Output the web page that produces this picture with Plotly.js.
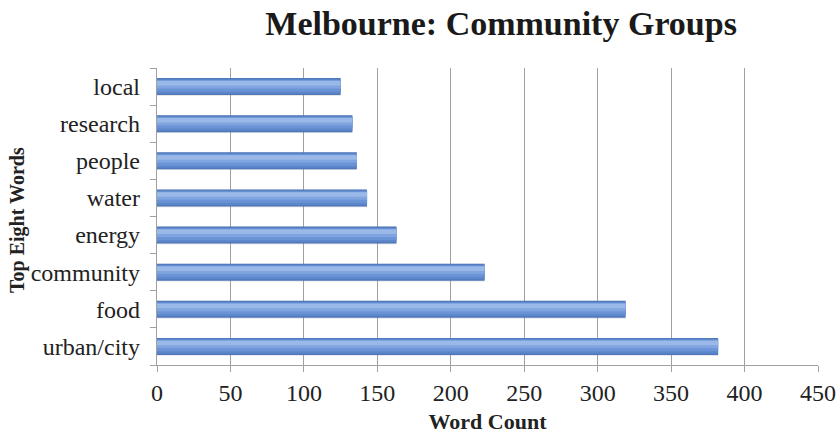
<!DOCTYPE html>
<html>
<head>
<meta charset="utf-8">
<script src="https://cdn.plot.ly/plotly-3.0.1.min.js"></script>
<style>html,body{margin:0;padding:0;background:#fff;}#chart{width:838px;height:434px;}</style>
</head>
<body>
<div id="chart"></div>
<script>
// Data (bottom to top)
const words = ["urban/city", "food", "community", "energy", "water", "people", "research", "local"];
const counts = [382, 319, 223, 163, 143, 136, 133, 125];
const xTicks = [0, 50, 100, 150, 200, 250, 300, 350, 400, 450];

// gradient layers: [offset, width, color]
const layers = [
  [-0.25, 0.48, "rgba(120,120,130,0.22)"],
  [-0.23, 0.46, "#5079bc"],
  [-0.19, 0.39, "#5c87cb"],
  [-0.13, 0.31, "#6a94d6"],
  [-0.05, 0.21, "#7fa4df"],
  [0.03, 0.12, "#9ab9e9"]
];
const traces = layers.map(l => ({
  type: "bar",
  orientation: "h",
  x: counts,
  y: words,
  offset: l[0],
  width: l[1],
  marker: {color: l[2], line: {width: 0}},
  hoverinfo: "skip",
  showlegend: false
}));

const font = "Liberation Serif, serif";
const layout = {
  width: 838, height: 434,
  margin: {l: 157, r: 20, t: 68, b: 69},
  paper_bgcolor: "#fff", plot_bgcolor: "#fff",
  barmode: "overlay",
  title: {
    text: "<b>Melbourne: Community Groups</b>",
    font: {family: font, size: 34, color: "#1a1a1a"},
    xref: "container", x: 0.598, xanchor: "center",
    yref: "container", y: 0.975, yanchor: "top"
  },
  xaxis: {
    range: [0, 450],
    tickvals: xTicks,
    ticktext: xTicks.map(String),
    showgrid: true, gridcolor: "#a0a0a0", gridwidth: 1.2,
    showline: true, linecolor: "#a0a0a0", linewidth: 1.2,
    ticks: "outside", ticklen: 6, tickcolor: "#a0a0a0",
    zeroline: false,
    tickfont: {family: font, size: 24, color: "#222"},
    title: {text: "<b>Word Count</b>", font: {family: font, size: 22, color: "#222"}, standoff: 10}
  },
  yaxis: {
    type: "category",
    categoryorder: "array", categoryarray: words,
    showgrid: false,
    showline: true, linecolor: "#a0a0a0", linewidth: 1.2,
    ticks: "outside", ticklen: 6, tickcolor: "#a0a0a0",
    tickson: "boundaries",
    ticklabelstandoff: 11,
    tickfont: {family: font, size: 24, color: "#222"}
  },
  annotations: [{
    text: "<b>Top Eight Words</b>",
    textangle: -90,
    xref: "paper", yref: "paper",
    x: -0.212, y: 0.488,
    xanchor: "center", yanchor: "middle",
    showarrow: false,
    font: {family: font, size: 20, color: "#222"}
  }]
};
Plotly.newPlot("chart", traces, layout, {displayModeBar: false, staticPlot: true});
</script>
</body>
</html>
